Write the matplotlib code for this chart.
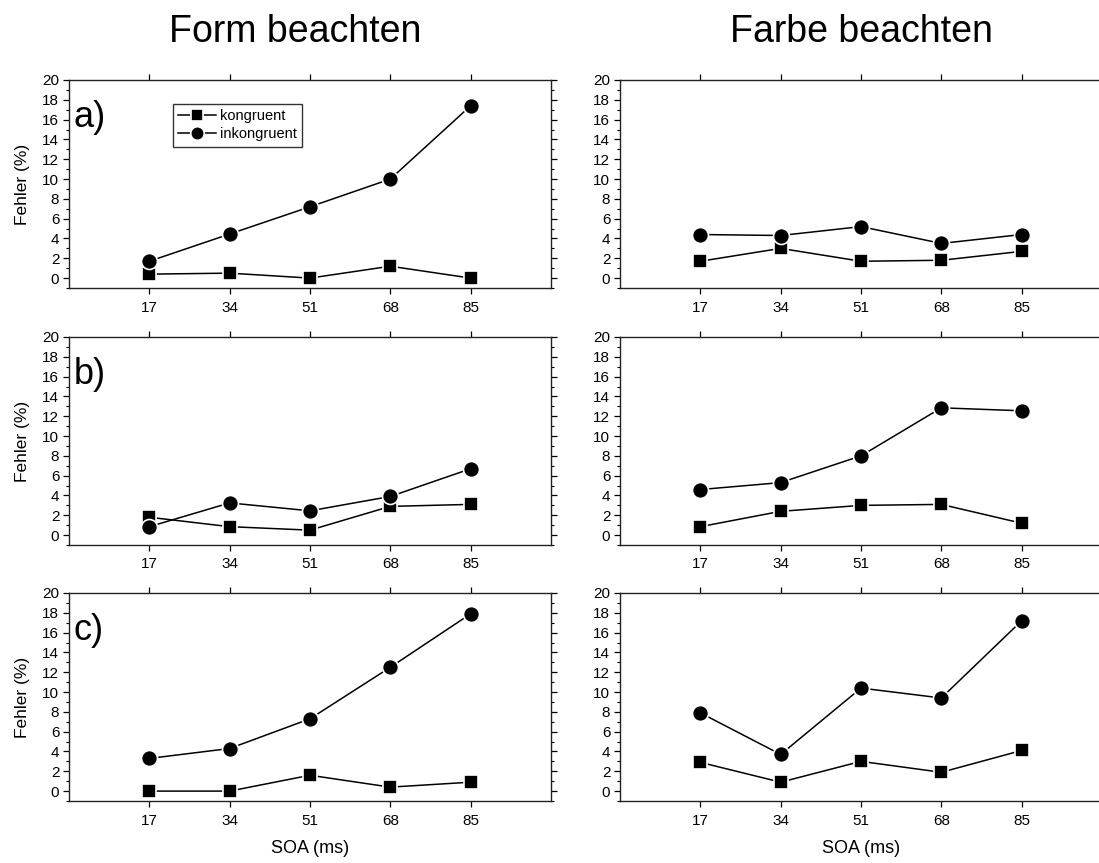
import matplotlib
matplotlib.use("Agg")
import matplotlib.pyplot as plt
from matplotlib.ticker import MultipleLocator

plt.rcParams["font.family"] = ["Liberation Sans", "DejaVu Sans"]

# Data
soa = [17, 34, 51, 68, 85]
soa_labels = ["17", "34", "51", "68", "85"]

# rows a), b), c); columns: Form beachten / Farbe beachten
form_kongruent = [
    [0.4, 0.5, 0.0, 1.2, 0.0],
    [1.8, 0.85, 0.5, 2.9, 3.1],
    [0.0, 0.0, 1.6, 0.4, 0.9],
]
form_inkongruent = [
    [1.7, 4.45, 7.2, 10.0, 17.4],
    [0.85, 3.25, 2.45, 3.9, 6.7],
    [3.3, 4.3, 7.3, 12.5, 17.9],
]
farbe_kongruent = [
    [1.7, 3.0, 1.7, 1.8, 2.7],
    [0.85, 2.4, 3.0, 3.1, 1.2],
    [2.9, 0.9, 3.0, 1.9, 4.1],
]
farbe_inkongruent = [
    [4.4, 4.3, 5.2, 3.5, 4.4],
    [4.6, 5.3, 8.0, 12.85, 12.55],
    [7.9, 3.7, 10.4, 9.4, 17.2],
]
panel_letters = ["a)", "b)", "c)"]
col_titles = ["Form beachten", "Farbe beachten"]

W, H = 1099, 863
fig = plt.figure(figsize=(W / 100, H / 100), dpi=100)

col_x = [69, 620]
ax_w = 482
row_top = [80, 337, 593]
ax_h = 208
title_x = [0.47, 0.5]


def style_axis(ax):
    ax.set_xlim(0, 102)
    ax.set_ylim(-1, 20)
    ax.set_xticks(soa)
    ax.set_xticklabels(soa_labels)
    ax.yaxis.set_major_locator(MultipleLocator(2))
    ax.yaxis.set_minor_locator(MultipleLocator(1))
    ax.tick_params(which="major", direction="out", length=4, width=0.9,
                   labelsize=11, top=True, right=True, pad=3)
    ax.tick_params(axis="x", which="major", pad=5)
    ax.tick_params(which="minor", direction="out", length=2.5, width=0.8,
                   right=True)
    ax.tick_params(axis="x", which="minor", bottom=False, top=False)
    for s in ax.spines.values():
        s.set_linewidth(1.0)
        s.set_color("#222222")


def draw_series(ax, kon, ink):
    ax.plot(soa, kon, color="black", lw=1.1, marker="s", ms=10.5,
            mfc="black", mec="white", mew=1.2, label="kongruent", zorder=3)
    ax.plot(soa, ink, color="black", lw=1.1, marker="o", ms=11.5,
            mfc="black", mec="white", mew=1.2, label="inkongruent", zorder=3)


for r in range(3):
    for c in range(2):
        x0 = col_x[c]
        y0 = row_top[r] + ax_h
        ax = fig.add_axes([x0 / W, (H - y0) / H, ax_w / W, ax_h / H])
        style_axis(ax)
        if c == 0:
            draw_series(ax, form_kongruent[r], form_inkongruent[r])
            ax.set_ylabel("Fehler (%)", fontsize=12.5, labelpad=9)
            ax.text(0.01, 0.82, panel_letters[r], transform=ax.transAxes,
                    fontsize=26, ha="left", va="center")
            if r == 0:
                leg = ax.legend(loc="upper left", bbox_to_anchor=(0.2, 0.92),
                                fontsize=10.5, frameon=True, fancybox=False,
                                handlelength=2.6, handletextpad=0.3,
                                borderpad=0.35, labelspacing=0.3,
                                markerscale=0.85)
                leg.get_frame().set_edgecolor("black")
                leg.get_frame().set_linewidth(1.0)
        else:
            draw_series(ax, farbe_kongruent[r], farbe_inkongruent[r])
        if r == 0:
            ax.set_title(col_titles[c], fontsize=27, pad=27, x=title_x[c])
        if r == 2:
            ax.set_xlabel("SOA (ms)", fontsize=13, labelpad=9)

fig.savefig("out.png", dpi=100)
